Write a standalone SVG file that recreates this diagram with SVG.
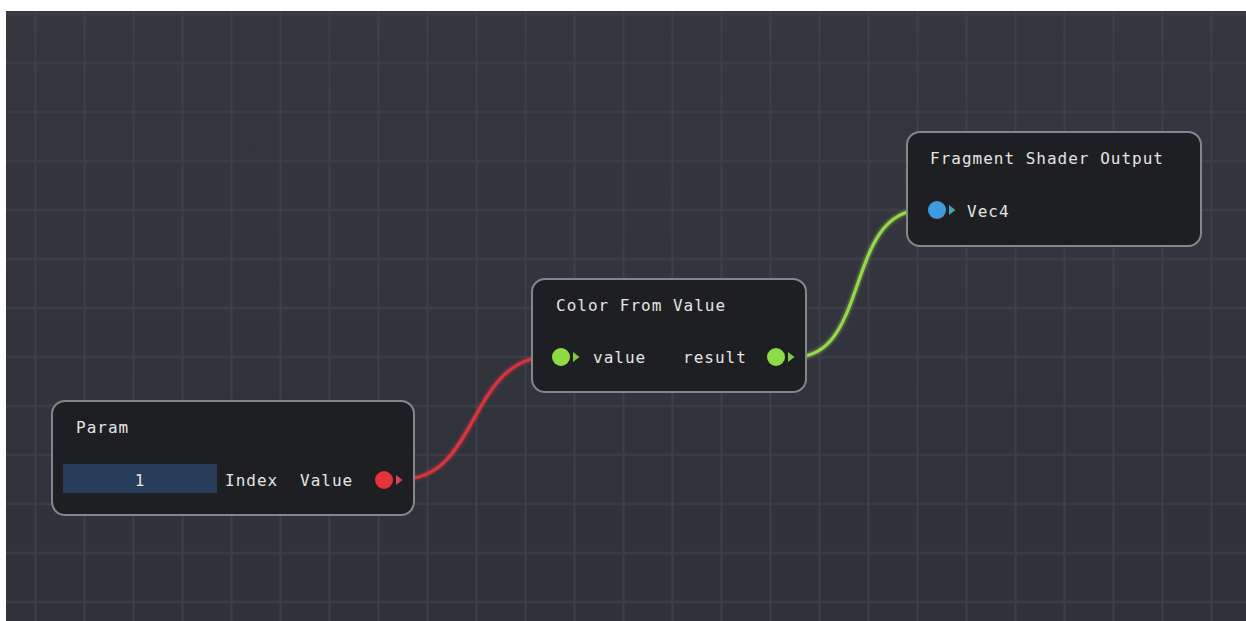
<svg xmlns="http://www.w3.org/2000/svg" xmlns:xlink="http://www.w3.org/1999/xlink" width="1246" height="621" viewBox="0 0 1246 621">
  <defs>
    <linearGradient id="bg" x1="0" y1="0" x2="0" y2="1">
      <stop offset="0" stop-color="#36363f"/>
      <stop offset="1" stop-color="#2f323b"/>
    </linearGradient>
    <pattern id="grid" x="11" y="38.5" width="49" height="49" patternUnits="userSpaceOnUse">
      <path d="M24.5 0 V49 M0 24.5 H49" stroke="#3e404a" stroke-width="2" fill="none"/>
    </pattern>
    <polygon id="tri" points="12,-5 18.5,0 12,5"/>
    <filter id="glow" x="-20%" y="-20%" width="140%" height="140%">
      <feGaussianBlur stdDeviation="1.2"/>
    </filter>
  </defs>
  <style>
    .node rect.body { fill: #1e1f22; stroke: #85868c; stroke-width: 2; }
    .txt { font-family: "DejaVu Sans Mono", "Liberation Mono", monospace; font-size: 16px; letter-spacing: 1px; fill: #e4e4e4; }
    .wire { fill: none; stroke-width: 3.2; stroke-linecap: round; }
    .wglow { fill: none; stroke-width: 6; opacity: 0.35; filter: url(#glow); }
    .red { fill: #e5343b; }
    .redt { fill: #d9484f; }
    .green { fill: #8fdb45; }
    .greent { fill: #7cc940; }
    .blue { fill: #3d9be0; }
    .bluet { fill: #3fa7b4; }
  </style>

  <rect x="0" y="0" width="1246" height="621" fill="#ffffff"/>
  <rect x="6" y="11" width="1240" height="610" fill="url(#bg)"/>
  <rect x="6" y="11" width="1240" height="610" fill="url(#grid)"/>

  <g id="connectors">
    <path class="wglow" stroke="#e5343b" d="M403 479 C478 479 470 357 548 357"/>
    <path class="wire" stroke="#d8343d" d="M403 479 C478 479 470 357 548 357"/>
    <path class="wglow" stroke="#9be04a" d="M795 357 C870 357 845 210 922 210"/>
    <path class="wire" stroke="#95d84a" d="M795 357 C870 357 845 210 922 210"/>
  </g>

  <g id="node-param" class="node">
    <rect class="body" x="52" y="401" width="362" height="114" rx="13"/>
    <text class="txt" x="76" y="433">Param</text>
    <rect x="63" y="464" width="154" height="29" fill="#283d59"/>
    <text class="txt" x="140" y="486" text-anchor="middle">1</text>
    <text class="txt" x="225" y="486">Index</text>
    <text class="txt" x="300" y="486">Value</text>
    <circle class="red" cx="384" cy="480" r="9"/>
    <use href="#tri" x="384" y="480" class="redt"/>
  </g>

  <g id="node-color" class="node">
    <rect class="body" x="532" y="279" width="274" height="113" rx="13"/>
    <text class="txt" x="556" y="311">Color From Value</text>
    <circle class="green" cx="561" cy="357" r="9"/>
    <use href="#tri" x="561" y="357" class="greent"/>
    <text class="txt" x="593" y="363">value</text>
    <text class="txt" x="683" y="363">result</text>
    <circle class="green" cx="776" cy="357" r="9"/>
    <use href="#tri" x="776" y="357" class="greent"/>
  </g>

  <g id="node-fragment" class="node">
    <rect class="body" x="907" y="132" width="294" height="114" rx="13"/>
    <text class="txt" x="930" y="164">Fragment Shader Output</text>
    <circle cx="937" cy="210" r="11.5" fill="#2a1c20" opacity="0.6"/>
    <circle class="blue" cx="937" cy="210" r="9"/>
    <use href="#tri" x="937" y="210" class="bluet"/>
    <text class="txt" x="967" y="217">Vec4</text>
  </g>
</svg>
